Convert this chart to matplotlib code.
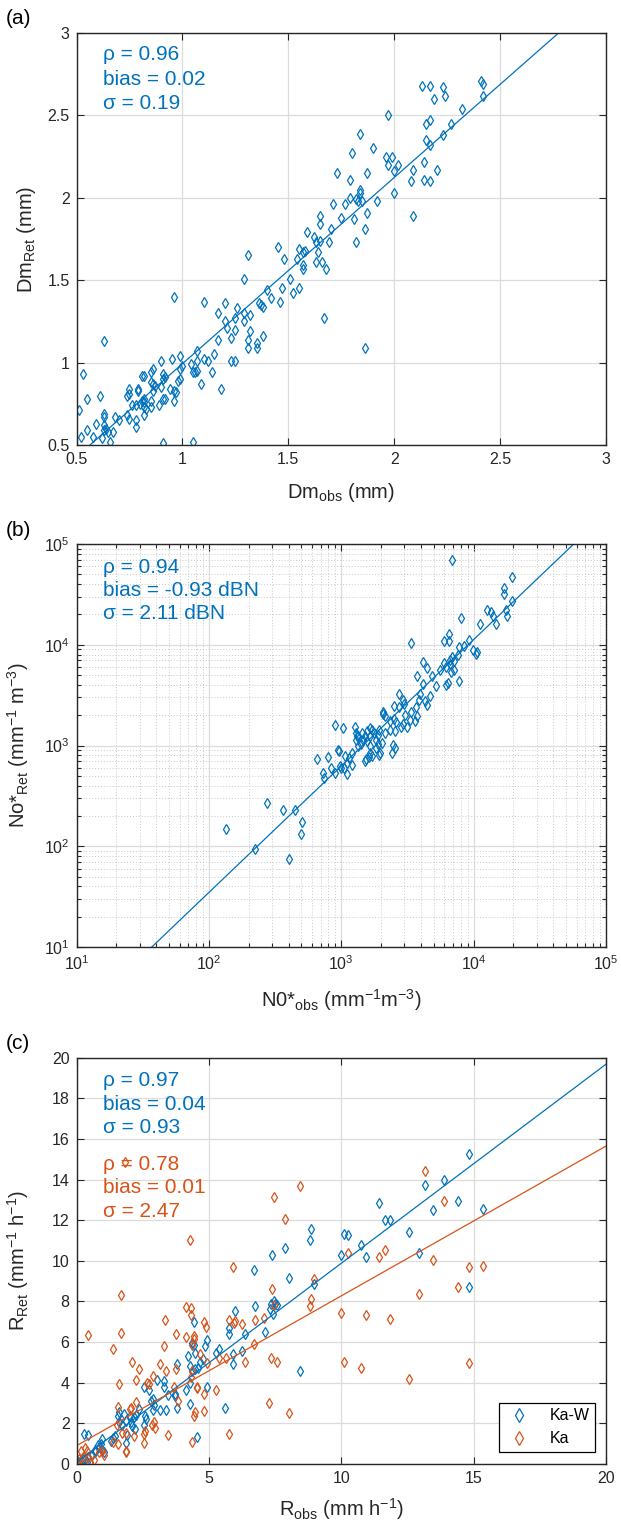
import numpy as np
import matplotlib
matplotlib.use("Agg")
import matplotlib.pyplot as plt
from matplotlib.ticker import FixedLocator, FuncFormatter, LogLocator

plt.rcParams['font.family'] = ['Liberation Sans', 'DejaVu Sans']
plt.rcParams['mathtext.default'] = 'regular'
plt.rcParams['mathtext.fontset'] = 'custom'
plt.rcParams['mathtext.rm'] = 'Liberation Sans'

BLUE = '#0072BD'
ORANGE = '#D95319'
AXC = '#262626'
GRIDC = '#DCDCDC'

# ---- (a) mass-weighted mean diameter: (Dm_obs, Dm_Ret) in mm
dm_pairs = np.array([
    (2.13, 2.68), (2.17, 2.68), (2.23, 2.67), (2.41, 2.71), (2.42, 2.69), (2.42, 2.62),
    (2.19, 2.60), (2.24, 2.62), (2.32, 2.54), (2.27, 2.45), (2.15, 2.45), (2.17, 2.47),
    (2.15, 2.35), (2.17, 2.32), (2.23, 2.38), (2.20, 2.17), (2.14, 2.22), (2.09, 2.17),
    (2.08, 2.10), (2.14, 2.11), (2.17, 2.10), (2.09, 1.89), (1.97, 2.50), (1.84, 2.39),
    (1.90, 2.30), (1.96, 2.25), (1.99, 2.25), (1.97, 2.20), (2.02, 2.20), (2.00, 2.16),
    (2.00, 2.03), (1.92, 1.98), (1.87, 2.15), (1.80, 2.27), (1.73, 2.15), (1.79, 2.11),
    (1.79, 2.00), (1.77, 1.96), (1.84, 2.05), (1.84, 2.03), (1.82, 1.99), (1.83, 1.98),
    (1.85, 1.98), (1.71, 1.96), (1.75, 1.88), (1.81, 1.87), (1.87, 1.91), (1.86, 1.81),
    (1.82, 1.73), (1.65, 1.89), (1.65, 1.84), (1.70, 1.81), (1.59, 1.79), (1.62, 1.76),
    (1.65, 1.74), (1.63, 1.73), (1.69, 1.73), (1.55, 1.69), (1.57, 1.67), (1.58, 1.68),
    (1.54, 1.63), (1.57, 1.59), (1.57, 1.57), (1.64, 1.67), (1.63, 1.61), (1.66, 1.61),
    (1.68, 1.57), (1.45, 1.70), (1.48, 1.63), (1.31, 1.65), (1.29, 1.51), (1.51, 1.51),
    (1.52, 1.42), (1.55, 1.45), (1.47, 1.45), (1.40, 1.44), (1.42, 1.39), (1.46, 1.37),
    (1.67, 1.27), (1.86, 1.09), (1.36, 1.36), (1.37, 1.35), (1.38, 1.34), (1.26, 1.33),
    (1.29, 1.30), (1.25, 1.27), (1.32, 1.29), (1.29, 1.25), (1.20, 1.36), (1.17, 1.30),
    (1.20, 1.25), (1.21, 1.21), (1.25, 1.20), (1.32, 1.19), (1.38, 1.16), (1.31, 1.14),
    (1.35, 1.12), (1.35, 1.09), (1.31, 1.09), (1.17, 1.14), (1.23, 1.15), (1.10, 1.37),
    (0.96, 1.40), (0.63, 1.13), (1.07, 1.07), (1.15, 1.05), (1.10, 1.02), (1.12, 1.01),
    (1.23, 1.01), (1.25, 1.01), (1.14, 0.94), (1.09, 0.87), (1.18, 0.84), (1.04, 0.99),
    (1.07, 1.01), (1.05, 0.94), (1.06, 0.94), (1.07, 0.95), (0.99, 1.04), (1.00, 0.98),
    (0.99, 0.96), (0.95, 1.02), (0.90, 1.01), (0.98, 0.89), (0.99, 0.90), (0.96, 0.83),
    (0.97, 0.82), (0.94, 0.84), (0.96, 0.77), (0.91, 0.93), (0.92, 0.91), (0.91, 0.90),
    (0.90, 0.85), (0.86, 0.96), (0.85, 0.94), (0.85, 0.88), (0.86, 0.87), (0.87, 0.86),
    (0.81, 0.92), (0.82, 0.92), (0.86, 0.83), (0.91, 0.78), (0.92, 0.78), (0.89, 0.74),
    (0.85, 0.77), (0.85, 0.73), (0.82, 0.78), (0.81, 0.77), (0.82, 0.76), (0.80, 0.75),
    (0.82, 0.73), (0.83, 0.72), (0.78, 0.74), (0.79, 0.83), (0.79, 0.84), (0.75, 0.84),
    (0.75, 0.81), (0.74, 0.80), (0.76, 0.74), (0.82, 0.68), (0.74, 0.68), (0.75, 0.66),
    (0.78, 0.65), (0.78, 0.61), (0.70, 0.65), (0.68, 0.67), (0.61, 0.80), (0.55, 0.78),
    (0.53, 0.93), (0.51, 0.71), (0.63, 0.69), (0.63, 0.67), (0.59, 0.63), (0.63, 0.62),
    (0.64, 0.60), (0.63, 0.59), (0.65, 0.58), (0.67, 0.58), (0.66, 0.52), (0.62, 0.54),
    (0.58, 0.55), (0.55, 0.59), (0.52, 0.55), (0.91, 0.51), (1.05, 0.52),
])
dm_fit = (1.130, -0.137)          # slope, intercept
dm_stats = ['ρ = 0.96', 'bias = 0.02', 'σ = 0.19']

# ---- (b) normalized intercept: (N0*_obs, No*_Ret) in mm^-1 m^-3
n0_pairs = np.array([
    (6918, 69984), (19409, 46666), (16827, 36898), (16827, 31623), (19634, 27164),
    (17579, 21979), (17906, 19143), (12560, 22284), (13614, 21281), (14125, 19143),
    (14757, 16069), (11246, 16181), (8091, 18408), (3350, 10399), (5957, 10814),
    (6501, 12882), (6501, 10814), (9268, 11066), (7691, 9572), (8433, 9638),
    (9863, 8933), (10691, 8414), (10351, 8035), (6918, 7551), (6622, 7112),
    (7096, 6950), (6592, 6486), (7603, 7980), (6194, 6012), (7096, 5662),
    (5572, 5662), (5929, 6592), (7691, 4395), (6383, 4169), (6223, 4018),
    (6792, 5321), (4853, 4864), (4457, 5875), (4130, 6792), (3715, 4864),
    (4130, 4074), (5164, 3864), (4677, 3126), (4295, 2786), (4426, 2541),
    (3908, 3266), (3837, 2851), (3673, 2410), (3388, 2133), (3289, 1803),
    (2904, 2851), (2729, 3221), (2992, 2582), (3048, 2023), (3606, 1738),
    (3715, 1945), (2729, 2410), (2612, 1710), (2904, 1648), (3126, 1528),
    (2812, 1528), (2061, 2148), (2061, 2070), (2128, 1945), (2512, 2449),
    (2483, 1832), (2333, 1738), (2529, 1403), (2333, 1416), (2455, 1019),
    (2529, 944), (2410, 843), (1879, 1282), (1936, 1435), (1710, 1435),
    (1660, 1493), (1766, 1330), (2128, 1330), (1879, 1042), (2037, 1059),
    (1950, 843), (1832, 944), (1832, 1143), (1637, 1233), (1560, 1384),
    (1510, 1253), (1578, 1099), (1637, 982), (1660, 843), (1710, 793),
    (1618, 769), (1538, 735), (1510, 697), (1914, 811), (1466, 1143),
    (1419, 1042), (1334, 982), (1294, 1330), (1343, 1233), (1439, 1330),
    (1294, 1143), (891, 1611), (1028, 1493), (1279, 1528), (1309, 1233),
    (1216, 843), (1143, 752), (1114, 670), (1202, 646), (1074, 782),
    (1040, 598), (1109, 525), (966, 889), (948, 910), (973, 621),
    (998, 598), (891, 533), (838, 598), (793, 769), (653, 735),
    (726, 533), (740, 475), (450, 227), (362, 231), (277, 269),
    (509, 174), (500, 133), (134, 148), (223, 94), (400, 75),
])
n0_fit = (1.255, -0.969)          # log10 slope, log10 intercept
n0_stats = ['ρ = 0.94', 'bias = -0.93 dBN', 'σ = 2.11 dBN']

# ---- (c) rain rate: (R_obs, R_Ret) in mm h^-1
r_kaw_pairs = np.array([
    (14.82, 15.24), (15.35, 12.55), (13.88, 13.96), (13.15, 13.73), (13.47, 12.49),
    (14.42, 12.96), (14.82, 8.71), (12.95, 10.39), (12.57, 11.41), (11.64, 12.03),
    (11.83, 12.03), (11.41, 12.85), (10.73, 10.80), (10.92, 10.21), (10.11, 11.34),
    (10.25, 11.26), (9.98, 10.28), (8.86, 11.57), (8.81, 11.05), (8.98, 8.87),
    (8.01, 9.18), (7.86, 10.64), (7.38, 10.28), (6.70, 9.57), (7.46, 8.02),
    (7.36, 7.90), (7.51, 7.90), (7.59, 7.84), (7.30, 7.61), (7.43, 7.36),
    (8.44, 4.58), (6.74, 7.77), (5.99, 7.53), (5.77, 6.68), (5.77, 6.38),
    (6.38, 6.38), (7.11, 6.50), (6.27, 5.56), (5.91, 5.40), (5.91, 4.91),
    (5.37, 5.68), (5.27, 5.45), (5.62, 2.77), (4.92, 6.09), (4.84, 5.81),
    (4.44, 7.00), (4.38, 5.94), (4.42, 5.84), (4.46, 5.45), (4.22, 5.32),
    (4.29, 4.80), (4.38, 4.58), (4.49, 4.66), (4.60, 4.75), (4.65, 5.02),
    (4.79, 5.16), (4.92, 3.81), (4.15, 3.63), (4.29, 4.01), (4.56, 1.31),
    (4.29, 2.95), (3.79, 4.91), (3.79, 2.78), (3.72, 3.36), (3.73, 3.44),
    (3.45, 3.40), (3.39, 2.65), (3.32, 4.09), (3.30, 3.81), (3.03, 4.12),
    (3.17, 2.65), (2.90, 3.19), (2.81, 3.11), (2.90, 2.67), (2.94, 2.90),
    (2.74, 3.65), (2.56, 3.81), (2.64, 2.21), (2.60, 2.37), (2.54, 1.91),
    (2.36, 2.70), (2.24, 2.41), (2.17, 2.29), (2.10, 1.88), (2.20, 1.72),
    (2.06, 2.05), (2.01, 2.37), (1.86, 2.13), (1.79, 2.45), (1.59, 2.54),
    (1.56, 2.37), (1.59, 2.05), (1.70, 1.91), (1.90, 1.42), (1.86, 1.01),
    (1.46, 1.39), (1.39, 1.26), (1.32, 1.15), (0.98, 1.23), (0.92, 0.98),
    (0.82, 0.93), (0.85, 0.82), (0.96, 0.70), (1.02, 0.57), (0.71, 0.70),
    (0.58, 0.44), (0.45, 0.33), (0.31, 0.25), (0.27, 1.47), (0.45, 1.44),
    (0.20, 0.16), (0.11, 0.11), (0.04, 0.05), (0.00, 0.08), (0.38, 0.11),
    (0.24, 0.25), (0.71, 0.57),
])
r_ka_pairs = np.array([
    (13.15, 14.42), (13.88, 12.96), (8.44, 13.67), (7.46, 13.14), (7.86, 12.08),
    (4.28, 11.05), (10.25, 10.39), (11.41, 10.21), (11.64, 10.52), (13.47, 10.05),
    (14.82, 9.71), (15.35, 9.74), (14.42, 8.71), (12.95, 8.35), (14.82, 4.99),
    (12.57, 4.17), (11.83, 7.14), (10.92, 7.32), (9.98, 7.41), (10.11, 5.04),
    (10.73, 4.75), (8.98, 9.12), (8.86, 8.13), (8.81, 7.77), (7.38, 8.59),
    (7.46, 7.84), (5.91, 9.71), (7.09, 7.17), (6.74, 7.09), (6.70, 5.92),
    (7.33, 5.24), (7.59, 5.04), (6.38, 5.04), (7.28, 3.00), (8.01, 2.49),
    (5.77, 1.47), (5.77, 7.09), (5.95, 6.96), (5.97, 7.04), (6.27, 6.91),
    (5.37, 5.24), (5.64, 5.24), (5.27, 3.65), (4.83, 6.99), (4.90, 6.74),
    (4.94, 4.99), (4.83, 3.47), (4.83, 2.62), (4.56, 3.81), (4.57, 3.76),
    (4.49, 2.54), (4.44, 2.37), (4.38, 1.06), (4.15, 7.74), (4.33, 7.69),
    (4.33, 7.33), (4.42, 6.30), (4.42, 6.14), (4.38, 5.84), (4.14, 6.27),
    (4.38, 4.58), (4.65, 5.40), (4.32, 4.26), (3.75, 6.38), (3.75, 4.70),
    (3.82, 3.11), (3.68, 3.81), (3.34, 7.07), (3.30, 5.81), (3.39, 4.58),
    (3.17, 4.94), (3.44, 1.42), (2.90, 4.34), (2.74, 3.93), (2.67, 4.01),
    (2.94, 2.05), (2.98, 1.77), (2.85, 1.93), (2.54, 1.47), (2.60, 1.64),
    (2.54, 1.01), (2.36, 4.70), (2.23, 4.12), (2.10, 5.04), (2.23, 3.03),
    (2.06, 2.78), (2.01, 2.70), (2.17, 1.36), (1.86, 1.55), (1.70, 1.51),
    (1.69, 8.31), (1.69, 6.43), (1.59, 3.93), (1.55, 2.81), (1.52, 1.93),
    (1.56, 0.98), (1.39, 5.68), (1.36, 1.06), (1.86, 0.65), (1.86, 0.57),
    (0.45, 6.33), (0.18, 0.65), (0.31, 0.77), (0.38, 0.65), (0.42, 0.33),
    (0.24, 0.36), (0.11, 0.25), (0.51, 0.08), (0.65, 0.21), (0.85, 0.57),
    (0.98, 0.65), (1.05, 0.44), (0.04, 0.08), (1.83, 14.85),
])
r_kaw_fit = (0.980, 0.08)
r_ka_fit = (0.7375, 0.90)
r_kaw_stats = ['ρ = 0.97', 'bias = 0.04', 'σ = 0.93']
r_ka_stats = ['ρ = 0.78', 'bias = 0.01', 'σ = 2.47']
r_labels = ['Ka-W', 'Ka']

W, H = 621, 1528
fig = plt.figure(figsize=(W / 100, H / 100), dpi=100)


def px_axes(left, top, right, bottom):
    return fig.add_axes([left / W, 1 - bottom / H, (right - left) / W, (bottom - top) / H])


def style(ax):
    for s in ax.spines.values():
        s.set_color(AXC)
        s.set_linewidth(1.0)
    ax.tick_params(which='both', direction='in', top=True, right=True,
                   colors=AXC, labelsize=11.5, width=0.8)
    ax.tick_params(which='major', length=5, pad=5)
    ax.tick_params(which='minor', length=3)
    ax.grid(True, which='major', color=GRIDC, linewidth=0.9)
    ax.set_axisbelow(True)


def stats_text(ax, lines, ys, color):
    for s, y in zip(lines, ys):
        ax.text(0.05, y, s, transform=ax.transAxes, color=color,
                fontsize=15, va='center', ha='left')


mk = dict(marker='d', linestyle='none', markersize=4.8, markerfacecolor='none',
          markeredgewidth=0.9)
fmt = FuncFormatter(lambda v, p: '%g' % v)

# (a)
ax1 = px_axes(76.5, 33, 606, 445)
style(ax1)
ax1.plot(dm_pairs[:, 0], dm_pairs[:, 1], color=BLUE, **mk)
xx = np.array([0.5, 3.0])
ax1.plot(xx, dm_fit[0] * xx + dm_fit[1], color=BLUE, lw=0.9)
ax1.set_xlim(0.5, 3)
ax1.set_ylim(0.5, 3)
ticks = [0.5, 1, 1.5, 2, 2.5, 3]
ax1.xaxis.set_major_locator(FixedLocator(ticks))
ax1.yaxis.set_major_locator(FixedLocator(ticks))
ax1.xaxis.set_major_formatter(fmt)
ax1.yaxis.set_major_formatter(fmt)
ax1.set_xlabel('Dm$_{obs}$ (mm)', fontsize=14.5, color=AXC)
ax1.set_ylabel('Dm$_{Ret}$ (mm)', fontsize=14.5, color=AXC)
ax1.xaxis.set_label_coords(0.5, -0.088)
ax1.yaxis.set_label_coords(-0.072, 0.5)
stats_text(ax1, dm_stats, [0.948, 0.887, 0.830], BLUE)

# (b)
ax2 = px_axes(76.5, 544, 606, 947)
ax2.set_xscale('log')
ax2.set_yscale('log')
style(ax2)
ax2.grid(True, which='minor', color='#C8C8C8', linestyle=(0, (1, 2)), linewidth=0.7)
ax2.plot(n0_pairs[:, 0], n0_pairs[:, 1], color=BLUE, **mk)
lx = np.array([1.0, 5.0])
ax2.plot(10 ** lx, 10 ** (n0_fit[0] * lx + n0_fit[1]), color=BLUE, lw=0.9)
ax2.set_xlim(1e1, 1e5)
ax2.set_ylim(1e1, 1e5)
for axis in (ax2.xaxis, ax2.yaxis):
    axis.set_major_locator(LogLocator(base=10, numticks=10))
    axis.set_minor_locator(LogLocator(base=10, subs=np.arange(2, 10), numticks=50))
ax2.set_xlabel('N0*$_{obs}$ (mm$^{-1}$m$^{-3}$)', fontsize=14.5, color=AXC)
ax2.set_ylabel('No*$_{Ret}$ (mm$^{-1}$ m$^{-3}$)', fontsize=14.5, color=AXC)
ax2.xaxis.set_label_coords(0.5, -0.1)
ax2.yaxis.set_label_coords(-0.085, 0.5)
stats_text(ax2, n0_stats, [0.942, 0.884, 0.827], BLUE)

# (c)
ax3 = px_axes(76.5, 1057.7, 606, 1464)
style(ax3)
ax3.plot(r_kaw_pairs[:, 0], r_kaw_pairs[:, 1], color=BLUE, label=r_labels[0], **mk)
ax3.plot(r_ka_pairs[:, 0], r_ka_pairs[:, 1], color=ORANGE, label=r_labels[1], **mk)
xr = np.array([0.0, 20.0])
ax3.plot(xr, r_kaw_fit[0] * xr + r_kaw_fit[1], color=BLUE, lw=0.9)
ax3.plot(xr, r_ka_fit[0] * xr + r_ka_fit[1], color=ORANGE, lw=0.9)
ax3.set_xlim(0, 20)
ax3.set_ylim(0, 20)
ax3.xaxis.set_major_locator(FixedLocator([0, 5, 10, 15, 20]))
ax3.yaxis.set_major_locator(FixedLocator(list(range(0, 21, 2))))
ax3.xaxis.set_major_formatter(fmt)
ax3.yaxis.set_major_formatter(fmt)
ax3.set_xlabel('R$_{obs}$ (mm h$^{-1}$)', fontsize=14.5, color=AXC)
ax3.set_ylabel('R$_{Ret}$ (mm$^{-1}$ h$^{-1}$)', fontsize=14.5, color=AXC)
ax3.xaxis.set_label_coords(0.5, -0.08)
ax3.yaxis.set_label_coords(-0.085, 0.5)
stats_text(ax3, r_kaw_stats, [0.945, 0.886, 0.828], BLUE)
stats_text(ax3, r_ka_stats, [0.738, 0.681, 0.621], ORANGE)
leg = ax3.legend(loc='lower right', bbox_to_anchor=(0.979, 0.03), fontsize=11.5,
                 markerscale=1.4, fancybox=False, framealpha=1, borderaxespad=0,
                 handletextpad=1.0, borderpad=0.35, handlelength=1.8)
leg.get_frame().set_edgecolor('black')
leg.get_frame().set_linewidth(0.9)

for lab, top in (('(a)', 33), ('(b)', 544), ('(c)', 1057.7)):
    fig.text(6 / W, 1 - (top - 14) / H, lab, fontsize=15, color='black',
             ha='left', va='center')

fig.savefig('out.png', dpi=100)
